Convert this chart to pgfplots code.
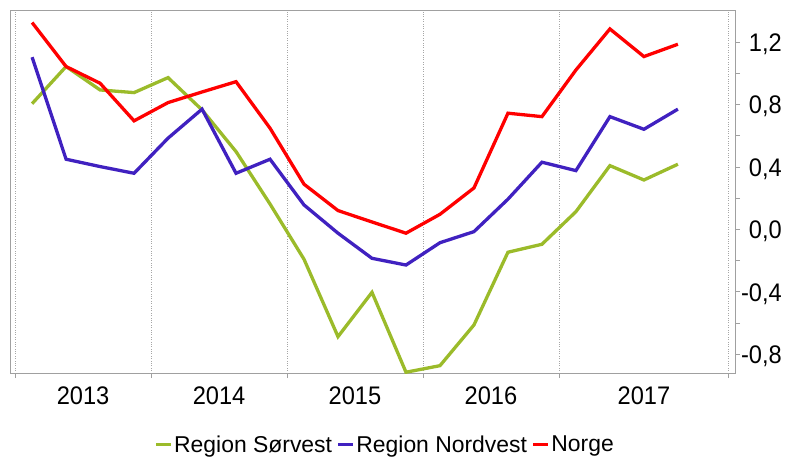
\documentclass[border=0pt]{standalone}
\usepackage{pgfplots}
\pgfplotsset{compat=1.18}
\usepackage{fontspec}
\setmainfont{Liberation Sans}
\newfontfamily\tickfont[FakeStretch=0.93]{Liberation Sans}

\definecolor{sorvest}{RGB}{155,187,42}
\definecolor{nordvest}{RGB}{64,33,192}
\definecolor{norge}{RGB}{255,0,0}
\definecolor{framegray}{RGB}{160,160,160}

% quarter index 0..19 = 2013K1..2017K4
\pgfplotstableread{
q  sorvest nordvest norge
0   0.806   1.104   1.326
1   1.044   0.450   1.044
2   0.894   0.403   0.937
3   0.877   0.360   0.696
4   0.973   0.585   0.813
5   0.766   0.771   0.881
6   0.499   0.360   0.947
7   0.163   0.450   0.649
8  -0.191   0.157   0.290
9  -0.687  -0.024   0.121
10 -0.403  -0.185   0.048
11 -0.915  -0.228  -0.024
12 -0.873  -0.085   0.097
13 -0.612  -0.014   0.266
14 -0.146   0.194   0.745
15 -0.095   0.431   0.723
16  0.114   0.377   1.022
17  0.409   0.723   1.285
18  0.317   0.642   1.108
19  0.418   0.771   1.187
}\data

\begin{document}
\begin{tikzpicture}
\path[use as bounding box] (-10bp,-86bp) rectangle (778bp,373bp);
\begin{axis}[
  scale only axis,
  width=725bp, height=362bp,
  xmin=-0.65, xmax=20.68,
  ymin=-0.92, ymax=1.40,
  axis line style={framegray, line width=1pt},
  xtick={-0.5,3.5,7.5,11.5,15.5,20.5},
  xticklabels={2013,2014,2015,2016,2017},
  x tick label as interval,
  xtick pos=bottom,
  ytick={-0.8,-0.4,0,0.4,0.8,1.2},
  yticklabels={{-0,8},{-0,4},{0,0},{0,4},{0,8},{1,2}},
  minor ytick={-0.6,-0.2,0.2,0.6,1.0},
  ytick pos=right,
  yticklabel pos=right,
  tick align=outside,
  major tick length=5bp,
  minor tick length=5bp,
  tick style={framegray, line width=0.8pt},
  xmajorgrids,
  major grid style={gray!70, dotted, line width=0.8pt},
  xticklabel style={font=\tickfont\fontsize{25.5}{25.5}\selectfont, inner sep=0pt, yshift=-9bp},
  yticklabel style={font=\tickfont\fontsize{25.5}{25.5}\selectfont, inner sep=0pt, anchor=east, xshift=42bp, yshift=-2bp},
  legend columns=3,
  legend style={draw=none, fill=none, at={(0.517,-0.1975)}, anchor=center,
    font=\fontsize{23}{23}\selectfont, nodes={inner sep=1.5bp},
    /tikz/every even column/.append style={column sep=3bp}},
  legend image code/.code={\draw[#1] (0bp,0bp) -- (15bp,0bp);},
  every axis plot/.append style={line width=3.3bp},
]
\addplot[sorvest] table[x=q, y=sorvest] {\data};
\addlegendentry{Region Sørvest}
\addplot[nordvest] table[x=q, y=nordvest] {\data};
\addlegendentry{Region Nordvest}
\addplot[norge] table[x=q, y=norge] {\data};
\addlegendentry{Norge}
\end{axis}
\end{tikzpicture}
\end{document}
